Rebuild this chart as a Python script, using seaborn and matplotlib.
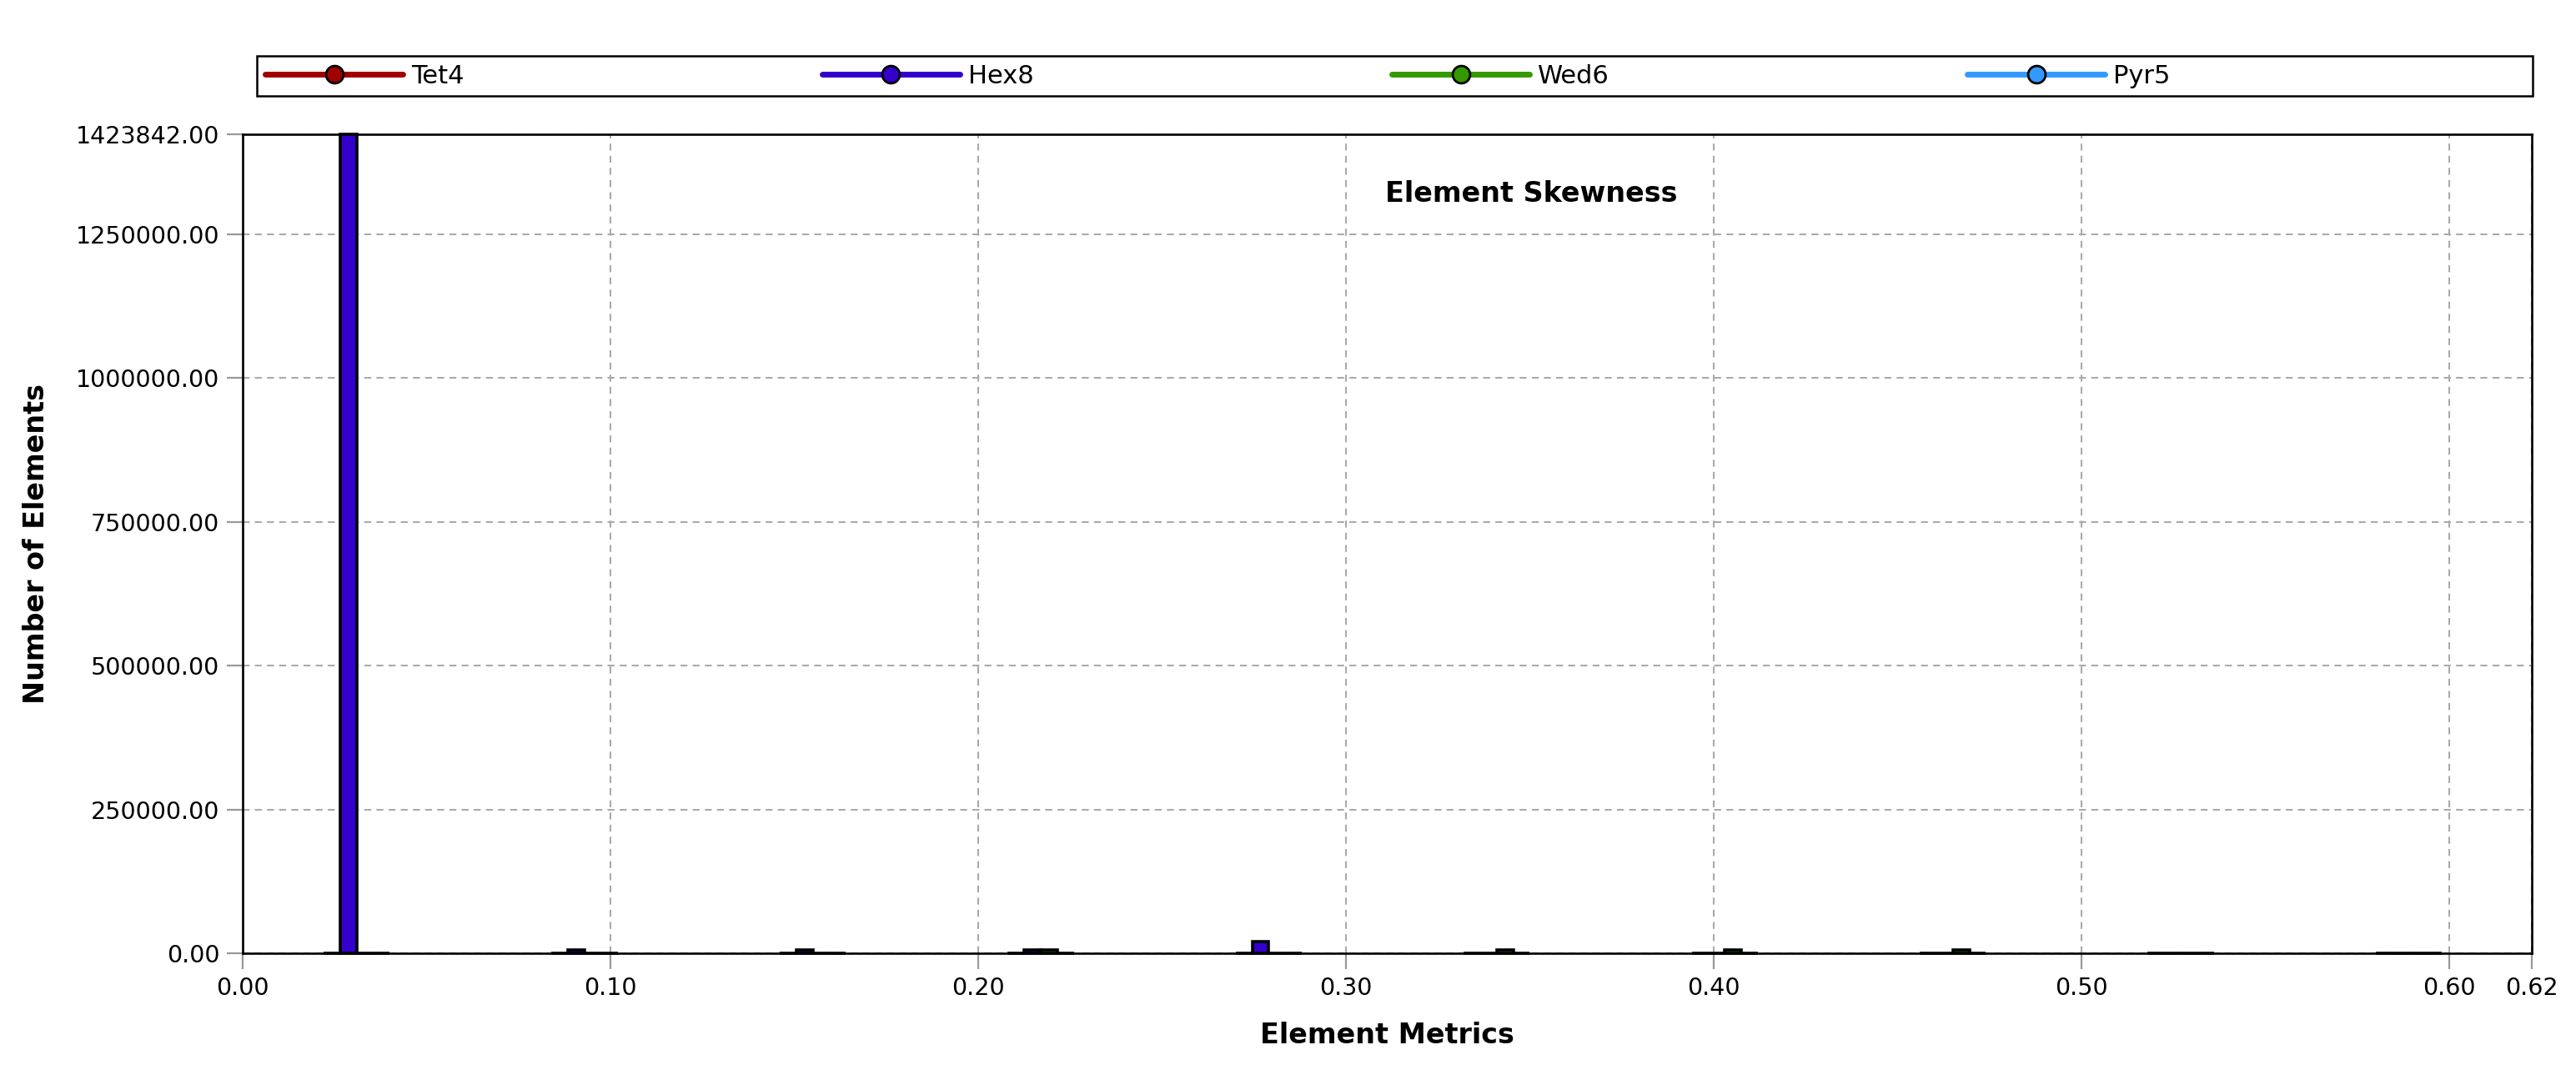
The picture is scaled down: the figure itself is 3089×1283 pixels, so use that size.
import numpy as np
import pandas as pd
import matplotlib
matplotlib.use("Agg")
import matplotlib.pyplot as plt
from matplotlib.lines import Line2D
from matplotlib.ticker import FixedLocator, FixedFormatter
import seaborn as sns

# histogram bin centres (skewness) and element counts per element type
bin_centers = [0.031, 0.093, 0.155, 0.217, 0.279, 0.341, 0.403, 0.465, 0.527, 0.589]
tet4 = [0, 0, 0, 0, 0, 0, 0, 0, 0, 0]
hex8 = [1423842, 6500, 6300, 6000, 21000, 0, 0, 0, 0, 0]
wed6 = [0, 0, 0, 6000, 0, 6200, 6300, 6300, 0, 0]
pyr5 = [0, 0, 0, 0, 0, 0, 0, 0, 0, 0]
types = ["Tet4", "Hex8", "Wed6", "Pyr5"]
colors = ["#A00000", "#3300CC", "#339900", "#3399FF"]

x_ticks = [0.0, 0.1, 0.2, 0.3, 0.4, 0.5, 0.6, 0.6224]
x_labels = ["0.00", "0.10", "0.20", "0.30", "0.40", "0.50", "0.60", "0.62"]
y_ticks = [0, 250000, 500000, 750000, 1000000, 1250000, 1423842]

df = pd.DataFrame({
    "metric": bin_centers * 4,
    "count": tet4 + hex8 + wed6 + pyr5,
    "type": [t for t in types for _ in bin_centers],
})

sns.set_style("white")
plt.rcParams["font.family"] = ["DejaVu Sans"]
plt.rcParams["text.color"] = "black"
plt.rcParams["axes.labelcolor"] = "black"

fig, ax = plt.subplots(figsize=(30.89, 12.83), dpi=100)
fig.subplots_adjust(left=0.0942, right=0.9828, bottom=0.109, top=0.8745)

sns.barplot(data=df, x="metric", y="count", hue="type", hue_order=types,
            palette=colors, native_scale=True, width=0.29, dodge=True,
            errorbar=None, edgecolor="black", linewidth=2.6, saturation=1,
            legend=False, ax=ax)
for p in ax.patches:
    p.set_zorder(5)
    p.set_clip_on(False)

ax.set_xlim(0, x_ticks[-1])
ax.set_ylim(0, y_ticks[-1])
ax.xaxis.set_major_locator(FixedLocator(x_ticks))
ax.xaxis.set_major_formatter(FixedFormatter(x_labels))
ax.yaxis.set_major_locator(FixedLocator(y_ticks))
ax.yaxis.set_major_formatter(FixedFormatter([f"{v:.2f}" for v in y_ticks]))

ax.grid(True, color="#aaaaaa", linestyle=(0, (4, 3)), linewidth=1.5, zorder=0)
ax.set_axisbelow(True)
ax.tick_params(axis="both", direction="out", length=14, width=1.6, color="#999999",
               labelsize=20.5, pad=6, labelcolor="black", bottom=True, left=True)
for s in ax.spines.values():
    s.set_visible(True)
    s.set_color("black")
    s.set_linewidth(1.9)
    s.set_zorder(4)

ax.set_xlabel("Element Metrics", fontsize=24, fontweight="bold", labelpad=19)
ax.set_ylabel("Number of Elements", fontsize=24, fontweight="bold", labelpad=22)
ax.text(0.563, 0.927, "Element Skewness", transform=ax.transAxes, ha="center",
        va="center", fontsize=24, fontweight="bold")

# legend strip above the plot
handles = [Line2D([], [], color=c, lw=5, marker="o", markersize=15,
                  markerfacecolor=c, markeredgecolor="black", markeredgewidth=2)
           for c in colors]
fig.legend(handles, types, loc="center left", bbox_to_anchor=(318 / 3089, 1 - 91 / 1283),
           ncol=4, frameon=False, borderaxespad=0, borderpad=0, fontsize=22,
           handlelength=5.4, handletextpad=0.33, columnspacing=14.05)
fig.add_artist(plt.Rectangle((308 / 3089, 1 - 115 / 1283), (3037 - 308) / 3089, 48 / 1283,
                             transform=fig.transFigure, fill=False, lw=1.8, ec="black"))

fig.savefig("out.png", dpi=100, facecolor="white")
